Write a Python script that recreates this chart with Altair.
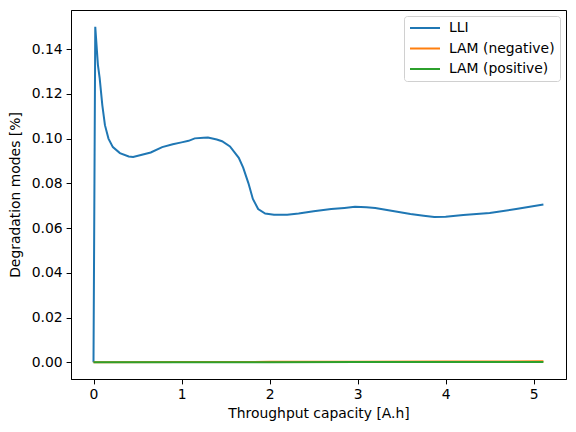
import altair as alt
import pandas as pd

# LLI series (throughput capacity [A.h], degradation [%])
lli_x = [0, 0.02, 0.05, 0.07, 0.1, 0.13, 0.17, 0.22, 0.3, 0.4, 0.45, 0.55, 0.65, 0.78,
         0.9, 1.0, 1.08, 1.15, 1.25, 1.3, 1.4, 1.46, 1.55, 1.65, 1.7, 1.76, 1.81, 1.87,
         1.95, 2.05, 2.2, 2.33, 2.5, 2.7, 2.85, 2.97, 3.1, 3.2, 3.3, 3.5, 3.6, 3.75,
         3.87, 4.0, 4.2, 4.5, 4.8, 5.11]
lli_y = [0.0, 0.150, 0.133, 0.127, 0.115, 0.106, 0.100, 0.0962, 0.0935, 0.0920, 0.0918,
         0.0928, 0.0938, 0.0962, 0.0975, 0.0983, 0.0990, 0.1001, 0.1004, 0.1005, 0.0996,
         0.0988, 0.0965, 0.0914, 0.0870, 0.0800, 0.0730, 0.0685, 0.0665, 0.0660, 0.0660,
         0.0665, 0.0675, 0.0685, 0.0690, 0.0695, 0.0693, 0.0690, 0.0683, 0.0670, 0.0663,
         0.0655, 0.0649, 0.0650, 0.0658, 0.0667, 0.0685, 0.0705]

lam_x = [0, 1.0, 2.0, 3.0, 4.0, 5.11]
lam_neg_y = [0.0, 0.00008, 0.00016, 0.00024, 0.00032, 0.0004]
lam_pos_y = [0.0, 0.00002, 0.00004, 0.00006, 0.00008, 0.0001]

series = ["LLI", "LAM (negative)", "LAM (positive)"]
colors = ["#1f77b4", "#ff7f0e", "#2ca02c"]
x_ticks = [0, 1, 2, 3, 4, 5]
y_ticks = [0.0, 0.02, 0.04, 0.06, 0.08, 0.10, 0.12, 0.14]

rows = []
for i, (x, y) in enumerate(zip(lli_x, lli_y)):
    rows.append({"x": x, "y": y, "s": series[0], "o": i})
for i, (x, y) in enumerate(zip(lam_x, lam_neg_y)):
    rows.append({"x": x, "y": y, "s": series[1], "o": i})
for i, (x, y) in enumerate(zip(lam_x, lam_pos_y)):
    rows.append({"x": x, "y": y, "s": series[2], "o": i})
df = pd.DataFrame(rows)

FONT = "DejaVu Sans"
FS = 13.9

chart = alt.Chart(df).mark_line(strokeWidth=2.0, clip=True).encode(
    x=alt.X("x:Q", scale=alt.Scale(domain=[-0.2556, 5.3666], nice=False, zero=False),
            axis=alt.Axis(title="Throughput capacity [A.h]", values=x_ticks, format="d")),
    y=alt.Y("y:Q", scale=alt.Scale(domain=[-0.0075, 0.1575], nice=False, zero=False),
            axis=alt.Axis(title="Degradation modes [%]", values=y_ticks, format=".2f")),
    color=alt.Color("s:N", scale=alt.Scale(domain=series, range=colors),
                    legend=alt.Legend(title=None, orient="top-right", offset=6,
                                      symbolType="stroke", symbolSize=900,
                                      symbolStrokeWidth=2.0, clipHeight=14,
                                      rowPadding=6.5, labelFontSize=FS, labelFont=FONT,
                                      labelColor="black", labelOffset=8,
                                      strokeColor="#d0d0d0", fillColor="white",
                                      cornerRadius=3, padding=5)),
    order="o:Q",
).properties(
    width=495, height=369,
    autosize="none",
    padding={"left": 63, "top": 2, "right": 2, "bottom": 45},
).configure_view(
    stroke="black", strokeWidth=1,
).configure_axis(
    grid=False, domainColor="black", domainWidth=1, tickColor="black", tickSize=4.9,
    tickWidth=1, labelColor="black", labelFont=FONT, labelFontSize=FS,
    titleFont=FONT, titleFontSize=FS, titleFontWeight="normal", titleColor="black",
    labelPadding=4,
).configure_axisX(titlePadding=5).configure_axisY(titlePadding=9)

chart.save("out.html", embed_options={"renderer": "svg", "actions": False})
